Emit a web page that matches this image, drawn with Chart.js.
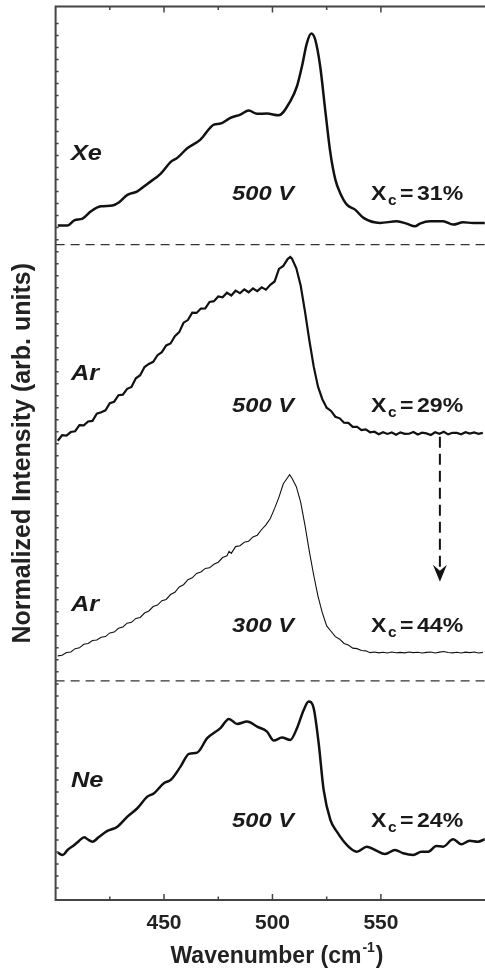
<!DOCTYPE html>
<html>
<head>
<meta charset="utf-8">
<script src="https://cdn.jsdelivr.net/npm/chart.js@4.4.0/dist/chart.umd.min.js"></script>
<style>
  html, body { margin: 0; padding: 0; background: #fff; overflow: hidden; }
  #wrap { width: 485px; height: 968px; position: relative; }
  canvas { display: block; }
</style>
</head>
<body>
<div id="wrap"><canvas id="ramanChart"></canvas></div>
<script>
// wavenumber (cm-1), stacked intensity (arb. units, offsets included)
const xePoints = [
  [401.0, 674], [405.5, 674], [408.6, 679.3], [412.4, 681], [416.3, 688.3], [420.9, 693.3],
  [426.2, 694], [429.3, 697.3], [433.1, 704.7], [437.7, 708.3], [442.3, 715.7], [448.5, 726],
  [453.1, 737.7], [456.1, 741.7], [460.7, 751.3], [466.8, 760], [473.0, 775], [476.0, 776],
  [480.6, 781.7], [485.2, 785], [489.1, 789], [492.9, 785.7], [497.5, 786], [502.9, 784.3],
  [508.2, 798.3], [511.3, 813.3], [513.6, 833.3], [515.9, 856.7], [517.9, 866], [519.7, 860],
  [522.0, 833.3], [524.3, 790], [526.7, 746.7], [529.0, 720], [531.2, 706.7], [534.3, 695],
  [538.1, 690], [542.0, 681.7], [549.6, 676.7], [557.3, 678.3], [561.9, 676], [565.7, 673.3],
  [568.0, 676], [572.6, 678.3], [578.7, 678.3], [583.3, 675], [587.9, 677.3], [592.5, 676.7],
  [597.9, 676.7]
];

const ar500Points = [
  [401, 459], [403, 464.5], [405, 464.1], [407, 467.7], [409, 468.5], [411, 474.6], [413, 474.3],
  [415, 478.2], [417, 478.8], [419, 486.0], [421, 487.5], [423, 489.4], [425, 496.5], [427, 498.0],
  [429, 504.5], [431, 505.0], [433, 510.9], [435, 512.8], [437, 521.4], [439, 524.5], [441, 532.7],
  [443, 535.8], [445, 537.9], [447, 544.5], [449, 547.5], [451, 554.2], [453, 556.2], [455, 563.5],
  [457, 567.5], [459, 577.0], [461, 579.6], [463, 587.0], [465, 586.7], [467, 591.1], [469, 591.3],
  [471, 597.7], [473, 598.5], [475, 603.2], [477, 602.3], [479, 607.0], [481, 604.2], [483, 609.0],
  [485, 606.4], [487, 610.3], [489, 607.4], [491, 611.2], [493, 608.5], [495, 612.3], [497, 610.0],
  [499, 614.9], [501, 618.2], [503, 630.8], [505, 633.7], [507, 640.6], [508.2, 642.7], [509, 641],
  [511, 631.4], [513, 614.2], [515, 588], [517, 559.4], [519, 533.3], [521, 513], [523, 500.5],
  [525, 492.0], [527, 488.8], [529, 483.0], [531, 481.4], [533, 477.0], [535, 476.9], [537, 472.9],
  [539, 473.0], [541, 469.6], [543, 470.3], [545, 467.5], [547, 468.0], [549, 465.5], [551, 467.5],
  [553, 465.8], [555, 467.2], [557, 465.0], [559, 467.4], [561, 465.9], [563, 466.0], [565, 467.8],
  [567, 465.2], [569, 467.0], [571, 466.3], [573, 464.8], [575, 467.5], [577, 466.0], [579, 467.9],
  [581, 465.4], [583, 467.0], [585, 466.8], [587, 465.5], [589, 467.6], [591, 466.1], [593, 467.3],
  [595, 465.9], [597, 466.8]
];

const ar300Points = [
  [401, 244.0], [403, 244.6], [405, 247.3], [407, 247.9], [409, 251.2], [411, 252.0], [413, 255.6],
  [415, 256.3], [417, 259.4], [419, 259.8], [421, 262.6], [423, 263.3], [425, 266.9], [427, 267.8],
  [429, 271.5], [431, 272.9], [433, 276.7], [435, 277.5], [437, 281.4], [439, 282.4], [441, 286.8],
  [443, 288.9], [445, 293.3], [447, 294.8], [449, 299.1], [451, 300.4], [453, 305.3], [455, 307.6],
  [457, 312.9], [459, 315.1], [461, 320.2], [463, 322.0], [465, 326.4], [467, 327.9], [469, 331.4],
  [471, 332.0], [473, 335.6], [475, 337.6], [477, 342.3], [479, 344.0], [480, 348.5], [481, 346.5],
  [483, 353.2], [485, 354.1], [487, 357.6], [489, 358.6], [491, 362.9], [493, 364.6], [495, 370.3],
  [497, 375.0], [499, 381.2], [501, 391.4], [503, 402.7], [505, 416.0], [507, 422.3], [507.9, 425],
  [509, 421.5], [511, 413.1], [513, 397.7], [515, 374.5], [517, 348.5], [519, 324.8], [521, 303.5],
  [523, 286.9], [525, 273.9], [527, 268.6], [529, 263.2], [531, 260.7], [533, 256.4], [535, 254.9],
  [537, 251.7], [539, 251.2], [541, 249.3], [543, 249.0], [545, 247.2], [547, 247.9], [549, 247.0],
  [551, 247.6], [553, 246.9], [555, 247.8], [557, 247.1], [559, 247.5], [561, 247.0], [563, 247.9],
  [565, 247.2], [567, 247.6], [569, 246.8], [571, 247.5], [573, 247.8], [575, 246.9], [577, 247.7],
  [579, 248.3], [581, 247.4], [583, 247.0], [585, 247.6], [587, 246.9], [589, 247.7], [591, 247.2],
  [593, 247.8], [595, 246.9], [597, 247.5]
];

const nePoints = [
  [401.0, 47.3], [403.3, 45], [405.5, 50], [408.6, 55], [410.9, 59.3], [413.2, 62.7], [414.7, 60.7],
  [417.0, 58.3], [420.1, 63.3], [423.9, 69], [428.5, 73.3], [433.1, 83.3], [437.7, 91.7],
  [442.3, 103.3], [445.4, 106.7], [449.9, 116.7], [453.1, 120], [457.6, 133.3], [461.5, 146],
  [465.3, 147.3], [469.9, 161.7], [476.0, 171.7], [479.9, 181], [483.7, 176], [488.3, 178.3],
  [492.9, 173.3], [497.5, 168.3], [500.6, 159.3], [504.4, 162.3], [508.2, 160], [511.3, 171.7],
  [514.4, 190], [516.7, 198.3], [519.0, 191.7], [521.3, 156.7], [523.6, 110], [526.7, 80],
  [529.7, 68.3], [534.3, 55], [538.9, 48.3], [543.5, 53.3], [547.3, 50], [551.9, 46], [556.5, 50],
  [560.3, 46.7], [564.9, 45], [568.7, 48.3], [571.8, 48.3], [575.6, 54], [578.7, 53.3],
  [583.3, 60.7], [587.1, 55.7], [590.9, 59.3], [594.7, 58.3], [597.9, 60.7]
];

const separatorLevels = [655, 219];
const arrowPoints = [[577.2, 463], [577.2, 330]];
const arrowTip = [577.2, 318];

const gasNames = ['Xe', 'Ar', 'Ar', 'Ne'];
const voltages = ['500 V', '500 V', '300 V', '500 V'];
const crystallinity = ['31%', '29%', '44%', '24%'];
const xTickLabels = [450, 500, 550];

const FONT = "'Liberation Sans', Arial, Helvetica, sans-serif";
const INK = '#111';

const toXY = pts => pts.map(p => ({ x: p[0], y: p[1] }));

function spectrum(points, width, smooth) {
    return {
        data: toXY(points),
        borderColor: INK,
        borderWidth: width,
        pointRadius: 0,
        tension: 0,
        cubicInterpolationMode: smooth ? 'monotone' : 'default',
        fill: false
    };
}

const datasets = [
    spectrum(xePoints, 2.5, true),
    spectrum(ar500Points, 2.2, false),
    spectrum(ar300Points, 1.1, false),
    spectrum(nePoints, 2.5, true)
];

separatorLevels.forEach(level => {
    datasets.push({
        data: [{ x: 400, y: level }, { x: 598, y: level }],
        borderColor: '#333',
        borderWidth: 1.4,
        borderDash: [9, 6],
        pointRadius: 0
    });
});

datasets.push({
    data: toXY(arrowPoints),
    borderColor: INK,
    borderWidth: 2,
    borderDash: [11, 6],
    pointRadius: 0
});

// axis frame, inward ticks, arrow head and the text inside the plot
const decorations = {
    id: 'decorations',
    afterDraw(chart) {
        const ctx = chart.ctx;
        const area = chart.chartArea;
        const xs = chart.scales.x;
        const ys = chart.scales.y;

        ctx.save();
        ctx.strokeStyle = '#444';
        ctx.lineWidth = 2;
        ctx.beginPath();
        ctx.moveTo(area.left, area.top);
        ctx.lineTo(area.left, area.bottom);
        ctx.moveTo(area.left - 1, area.bottom);
        ctx.lineTo(area.right, area.bottom);
        ctx.moveTo(area.left - 1, area.top);
        ctx.lineTo(area.right, area.top);
        ctx.stroke();

        ctx.lineWidth = 1.5;
        ctx.beginPath();
        xs.ticks.forEach(t => {
            if (t.value <= 400 || t.value >= 598 || t.value % 25 !== 0) return;
            const px = xs.getPixelForValue(t.value);
            const len = t.value % 50 === 0 ? 6 : 3.5;
            ctx.moveTo(px, area.bottom);
            ctx.lineTo(px, area.bottom - len);
            ctx.moveTo(px, area.top);
            ctx.lineTo(px, area.top + len);
        });
        ys.ticks.forEach(t => {
            if (t.value <= 0 || t.value % 12 !== 0) return;
            const py = ys.getPixelForValue(t.value);
            ctx.moveTo(area.left, py);
            ctx.lineTo(area.left + 3, py);
        });
        ctx.stroke();

        // arrow head
        const ax = xs.getPixelForValue(arrowTip[0]);
        const ay = ys.getPixelForValue(arrowTip[1]);
        ctx.fillStyle = INK;
        ctx.beginPath();
        ctx.moveTo(ax, ay);
        ctx.lineTo(ax - 7, ay - 17);
        ctx.lineTo(ax, ay - 11);
        ctx.lineTo(ax + 7, ay - 17);
        ctx.closePath();
        ctx.fill();

        // labels
        const gasBase = [160, 380, 611, 787];
        const rowBase = [200, 412, 632, 827];
        ctx.fillStyle = '#1a1a1a';
        ctx.textBaseline = 'alphabetic';
        ctx.textAlign = 'left';
        const put = (text, x, y, font, sx) => {
            ctx.save();
            ctx.font = font;
            ctx.translate(x, y);
            ctx.scale(sx, 1);
            ctx.fillText(text, 0, 0);
            ctx.restore();
        };
        for (let i = 0; i < 4; i++) {
            put(gasNames[i], 71, gasBase[i], `italic bold 22px ${FONT}`, 1.15);
            put(voltages[i], 232, rowBase[i], `italic bold 21px ${FONT}`, 1.13);
            const x0 = 371;
            put('X', x0, rowBase[i], `bold 21px ${FONT}`, 1.1);
            put('c', x0 + 17, rowBase[i] + 5, `bold 14px ${FONT}`, 1.1);
            put('=', x0 + 29, rowBase[i], `bold 21px ${FONT}`, 1.1);
            put(crystallinity[i], x0 + 46, rowBase[i], `bold 21px ${FONT}`, 1.1);
        }

        // x axis title with superscript
        ctx.fillStyle = '#222';
        ctx.font = `bold 23px ${FONT}`;
        const main = 'Wavenumber (cm';
        const w1 = ctx.measureText(main).width;
        ctx.font = `bold 14px ${FONT}`;
        const w2 = ctx.measureText('-1').width;
        ctx.font = `bold 23px ${FONT}`;
        const w3 = ctx.measureText(')').width;
        let tx = 277 - (w1 + w2 + 2 + w3) / 2;
        const ty = 963;
        ctx.fillText(main, tx, ty);
        tx += w1 + 1;
        ctx.font = `bold 14px ${FONT}`;
        ctx.fillText('-1', tx, ty - 11);
        tx += w2 + 1;
        ctx.font = `bold 23px ${FONT}`;
        ctx.fillText(')', tx, ty);
        ctx.restore();
    }
};

new Chart(document.getElementById('ramanChart').getContext('2d'), {
    type: 'line',
    data: { datasets: datasets },
    options: {
        responsive: true,
        maintainAspectRatio: false,
        devicePixelRatio: 1,
        animation: false,
        events: [],
        layout: { padding: { top: 6.5, right: 0, bottom: 0, left: 0 } },
        plugins: { legend: { display: false }, tooltip: { enabled: false } },
        scales: {
            x: {
                type: 'linear',
                min: 400,
                max: 598,
                grid: { display: false, drawTicks: false },
                border: { display: false },
                ticks: {
                    stepSize: 25,
                    autoSkip: false,
                    maxRotation: 0,
                    padding: 11,
                    color: '#222',
                    font: { family: FONT, size: 21, weight: 'bold' },
                    callback: v => xTickLabels.includes(v) ? String(v) : ''
                },
                afterFit: scale => {
                    scale.height = 68;
                    scale.paddingLeft = 0;
                    scale.paddingRight = 0;
                }
            },
            y: {
                type: 'linear',
                min: 0,
                max: 893,
                grid: { display: false, drawTicks: false },
                border: { display: false },
                ticks: { display: false, stepSize: 12 },
                title: {
                    display: true,
                    text: 'Normalized Intensity (arb. units)',
                    color: '#222',
                    font: { family: FONT, size: 25, weight: 'bold' },
                    padding: { top: 8, bottom: 0 }
                },
                afterFit: scale => {
                    scale.width = 55.6;
                    scale.paddingTop = 0;
                    scale.paddingBottom = 0;
                }
            }
        }
    },
    plugins: [decorations]
});
</script>
</body>
</html>
